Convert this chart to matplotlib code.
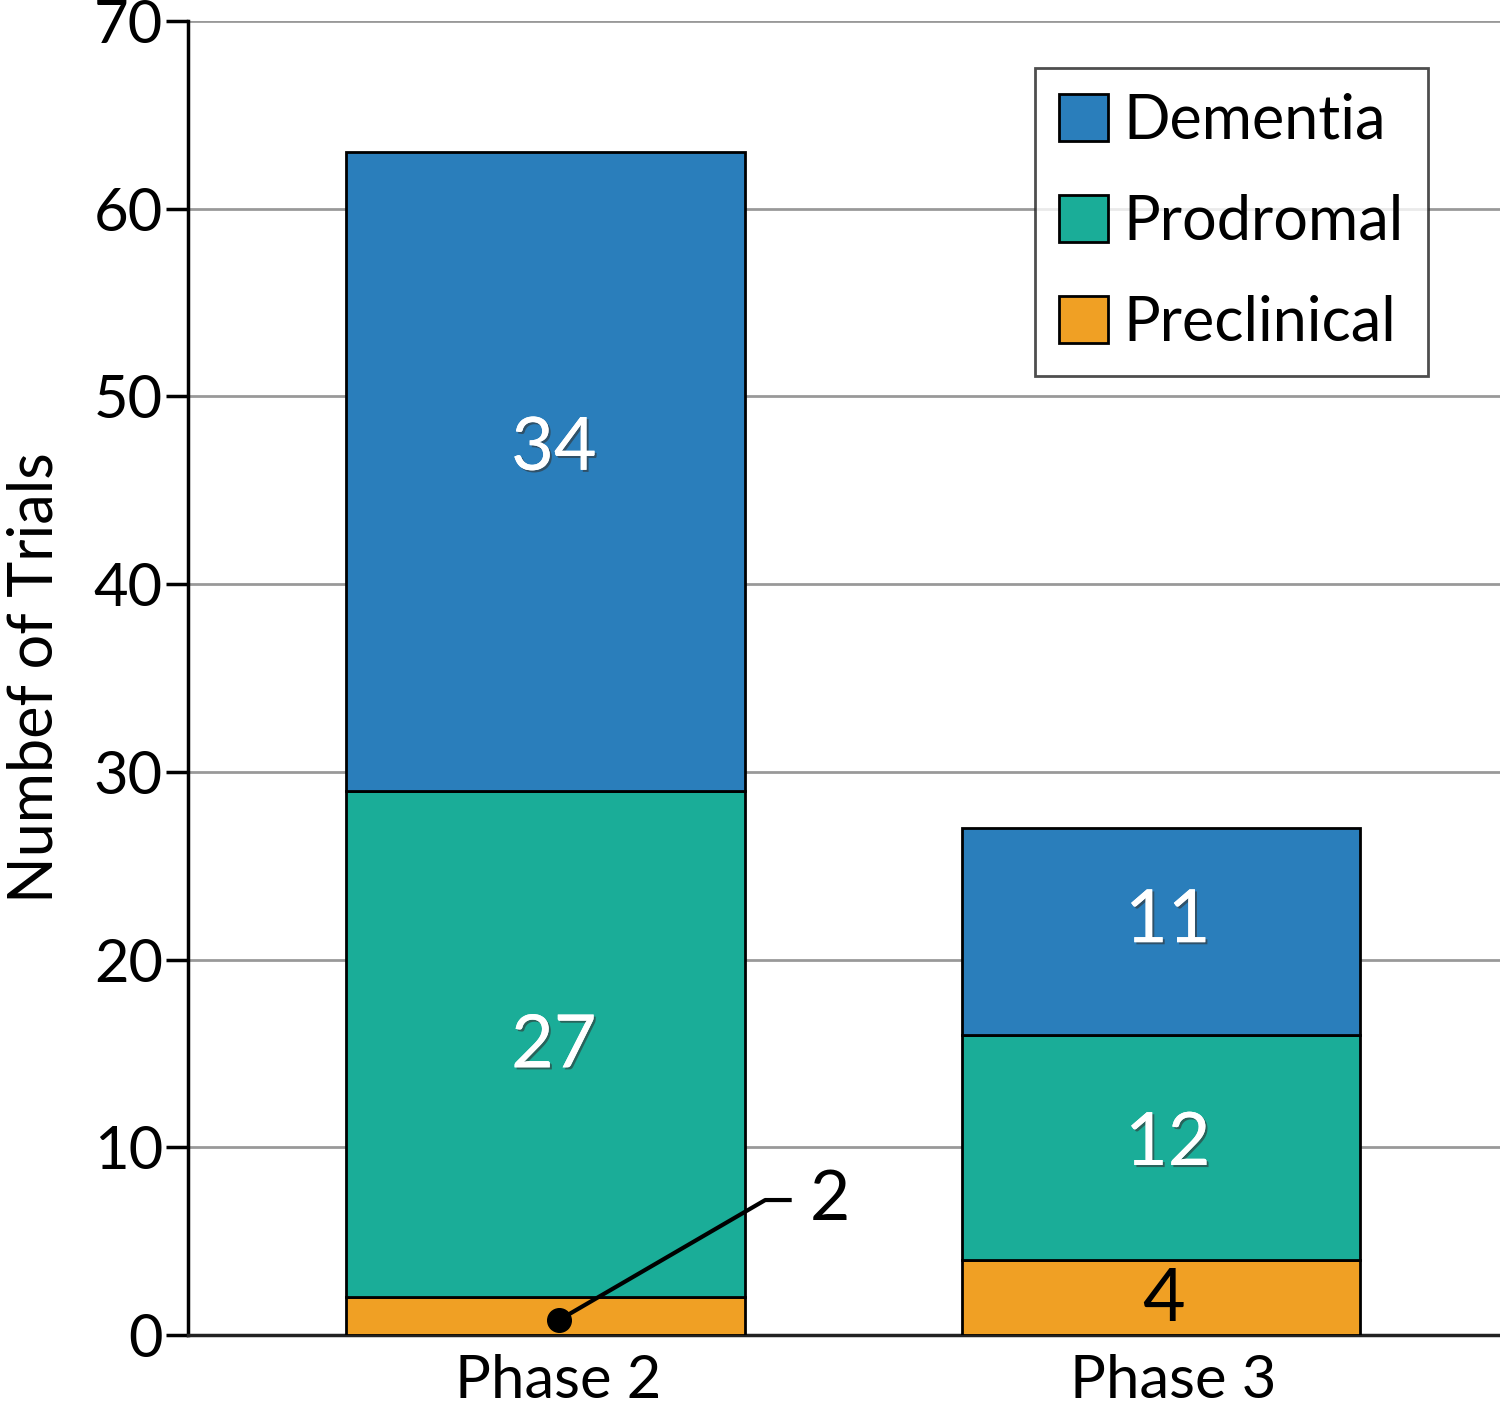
import matplotlib
matplotlib.use("Agg")
import matplotlib.pyplot as plt
import matplotlib.patheffects as pe
import matplotlib.transforms as mtrans
import numpy as np

plt.rcParams['font.family'] = ['Lato', 'DejaVu Sans']

phases = ["Phase 2", "Phase 3"]
series = ["Dementia", "Prodromal", "Preclinical"]
preclinical = [2, 4]
prodromal = [27, 12]
dementia = [34, 11]
colors = {"Dementia": "#2A7EBB", "Prodromal": "#1AAD98", "Preclinical": "#F0A024"}
yticks = [0, 10, 20, 30, 40, 50, 60, 70]

fig = plt.figure(figsize=(15, 14.12), dpi=100)
ax = fig.add_axes([188/1500, 77/1412, 1312/1500, 1314/1412])

x = np.arange(len(phases))
w = 0.648
b1 = ax.bar(x, preclinical, w, color=colors["Preclinical"], edgecolor="black", linewidth=2, label="Preclinical", zorder=3)
b2 = ax.bar(x, prodromal, w, bottom=preclinical, color=colors["Prodromal"], edgecolor="black", linewidth=2, label="Prodromal", zorder=3)
bot3 = np.array(preclinical) + np.array(prodromal)
b3 = ax.bar(x, dementia, w, bottom=bot3, color=colors["Dementia"], edgecolor="black", linewidth=2, label="Dementia", zorder=3)

# small visual nudges of labels (in points)
nudge_dem = [(6, 16), (5, 7)]
nudge_pro = [(6, -2), (5, 2)]
nudge_pre = (2, -2)

def offset(dx, dy):
    return ax.transData + mtrans.ScaledTranslation(dx/72, dy/72, fig.dpi_scale_trans)

shadow = [pe.withSimplePatchShadow(offset=(1.5, -1.5), shadow_rgbFace="#333333", alpha=0.6), pe.Normal()]
for i in range(len(phases)):
    ax.text(x[i], bot3[i] + dementia[i] / 2, str(dementia[i]), ha="center", va="center",
            fontsize=53, color="white", path_effects=shadow, zorder=5, transform=offset(*nudge_dem[i]))
    ax.text(x[i], preclinical[i] + prodromal[i] / 2, str(prodromal[i]), ha="center", va="center",
            fontsize=53, color="white", path_effects=shadow, zorder=5, transform=offset(*nudge_pro[i]))
ax.text(x[1], preclinical[1] / 2, str(preclinical[1]), ha="center", va="center", fontsize=53,
        color="black", zorder=5, transform=offset(*nudge_pre))
# callout for Phase 2 preclinical
ax.plot([x[0] + 0.022, x[0] + 0.357, x[0] + 0.40], [0.8, 7.19, 7.19], color="black", lw=3, zorder=6, solid_capstyle="butt")
ax.plot([x[0] + 0.022], [0.8], "o", color="black", ms=17, zorder=7)
ax.text(x[0] + 0.462, 7.19, str(preclinical[0]), ha="center", va="center", fontsize=50, color="black", zorder=6)

ax.set_xlim(-0.581, 1.551)
ax.set_ylim(0, 70)
ax.set_yticks(yticks)
ax.set_yticklabels([str(t) for t in yticks], fontsize=43)
ax.set_xticks(x + 0.02)
ax.set_xticklabels(phases, fontsize=43)
ax.tick_params(axis="y", length=16, width=2.5, color="black", pad=2)
ax.tick_params(axis="x", length=0, pad=14)
ax.yaxis.grid(True, color="#999999", lw=2, zorder=0)
ax.set_axisbelow(True)
for s in ["top", "right"]:
    ax.spines[s].set_visible(False)
ax.spines["left"].set_linewidth(2.5)
ax.spines["bottom"].set_linewidth(2.5)
ax.spines["bottom"].set_color("#222222")

ax.set_ylabel("Numbef of Trials", fontsize=44, labelpad=22)

handles = [b3, b2, b1]
leg = ax.legend(handles, series, loc="upper right",
                fontsize=44, frameon=True, fancybox=False, edgecolor="#222222", borderpad=0.4,
                labelspacing=0.72, handlelength=0.8, handleheight=0.8, handletextpad=0.25, borderaxespad=0)
leg.set_bbox_to_anchor((1428/1500, 1 - 68/1412), transform=fig.transFigure)
leg.get_frame().set_linewidth(2)

fig.savefig("out.png", dpi=100)
